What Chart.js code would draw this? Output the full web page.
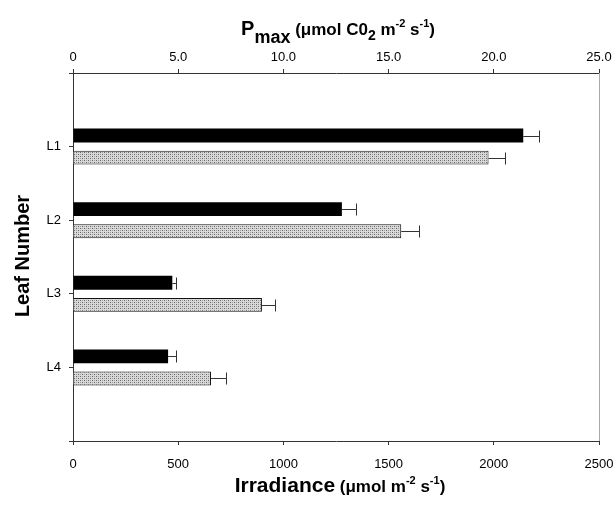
<!DOCTYPE html>
<html>
<head>
<meta charset="utf-8">
<script src="https://cdn.jsdelivr.net/npm/chart.js@4.4.1/dist/chart.umd.min.js"></script>
<style>
  html, body { margin: 0; padding: 0; background: #fff; }
</style>
</head>
<body>
<canvas id="leafChart" width="616" height="506"></canvas>
<script>
// leaf categories (blank slot at each end so L1..L4 sit on the inner ticks)
const leaves = ['', 'L1', 'L2', 'L3', 'L4', ''];
// irradiance, black bars (umol m-2 s-1) and top of the error bar
const irradiance = [null, 2140, 1278, 472, 452, null];
const irradianceErr = [null, 2216, 1345, 490, 488, null];
// Pmax, stippled bars (umol CO2 m-2 s-1) and top of the error bar
const pmax = [null, 19.75, 15.6, 8.98, 6.56, null];
const pmaxErr = [null, 20.55, 16.46, 9.6, 7.26, null];
// tick values
const irrTicks = [0, 500, 1000, 1500, 2000, 2500];
const pmaxTicks = [0, 5, 10, 15, 20, 25];

const FONT = '"Liberation Sans", Arial, sans-serif';
const bold = size => 'bold ' + size + 'px ' + FONT;

Chart.defaults.font.family = FONT;
Chart.defaults.color = '#000';

const ctx = document.getElementById('leafChart').getContext('2d');

// grey stipple like the printed fill
function stipple() {
    const c = document.createElement('canvas');
    c.width = 4; c.height = 4;
    const g = c.getContext('2d');
    g.fillStyle = '#d9d9d9';
    g.fillRect(0, 0, 4, 4);
    g.fillStyle = '#666';
    g.fillRect(0, 0, 1, 1);
    g.fillRect(2, 2, 1, 1);
    g.fillStyle = '#a0a0a0';
    g.fillRect(2, 0, 1, 1);
    g.fillRect(0, 2, 1, 1);
    return ctx.createPattern(c, 'repeat');
}

// one-sided error bars with a cap
const errorBars = {
    id: 'errorBars',
    afterDatasetsDraw(chart) {
        const c = chart.ctx;
        c.save();
        c.strokeStyle = '#333';
        c.lineWidth = 1;
        chart.data.datasets.forEach((ds, d) => {
            const meta = chart.getDatasetMeta(d);
            const scale = chart.scales[meta.xAxisID];
            meta.data.forEach((bar, i) => {
                const v = ds.errorEnds[i];
                if (v == null) return;
                const x = Math.round(scale.getPixelForValue(v)) + 0.5;
                const y = Math.round(bar.y) + 0.5;
                c.beginPath();
                c.moveTo(bar.x, y);
                c.lineTo(x, y);
                c.moveTo(x, y - 6);
                c.lineTo(x, y + 6);
                c.stroke();
            });
        });
        c.restore();
    }
};

function drawRuns(c, runs, cx, base) {
    let w = 0;
    runs.forEach(r => { c.font = r.font; w += c.measureText(r.text).width; });
    let x = cx - w / 2;
    runs.forEach(r => {
        c.font = r.font;
        c.fillText(r.text, x, base + (r.dy || 0));
        x += c.measureText(r.text).width;
    });
}

// axis titles with sub/superscripts, plus the right frame line
const titles = {
    id: 'titles',
    afterDraw(chart) {
        const c = chart.ctx;
        const a = chart.chartArea;
        c.save();
        c.strokeStyle = '#aaa';
        c.lineWidth = 1;
        c.beginPath();
        c.moveTo(Math.round(a.right) + 0.5, a.top);
        c.lineTo(Math.round(a.right) + 0.5, a.bottom);
        c.stroke();

        c.fillStyle = '#000';
        c.textBaseline = 'alphabetic';
        c.textAlign = 'left';
        drawRuns(c, [
            { text: 'P', font: bold(20) },
            { text: 'max', font: bold(18), dy: 8 },
            { text: ' (\u03bcmol C0', font: bold(17) },
            { text: '2', font: bold(14), dy: 5 },
            { text: ' m', font: bold(17) },
            { text: '-2', font: bold(11), dy: -8 },
            { text: ' s', font: bold(17) },
            { text: '-1', font: bold(11), dy: -8 },
            { text: ')', font: bold(17) }
        ], 338, 35);
        drawRuns(c, [
            { text: 'Irradiance', font: bold(21) },
            { text: ' (\u03bcmol m', font: bold(17) },
            { text: '-2', font: bold(11), dy: -8 },
            { text: ' s', font: bold(17) },
            { text: '-1', font: bold(11), dy: -8 },
            { text: ')', font: bold(17) }
        ], 340, 492);

        c.translate(29, 256);
        c.rotate(-Math.PI / 2);
        c.textAlign = 'center';
        c.font = bold(20);
        c.fillText('Leaf Number', 0, 0);
        c.restore();
    }
};

const axisGrid = { drawOnChartArea: false, color: '#333', tickLength: 4 };
const axisBorder = { color: '#333', width: 1 };

// fixed axis boxes so the plot area lands where the original has it
function fixBox(size, horizontal) {
    return s => {
        if (horizontal) s.height = size; else s.width = size;
        s.paddingLeft = 0; s.paddingRight = 0;
        s.paddingTop = 0; s.paddingBottom = 0;
    };
}

new Chart(ctx, {
    type: 'bar',
    data: {
        labels: leaves,
        datasets: [{
            label: 'Irradiance',
            data: irradiance,
            errorEnds: irradianceErr,
            xAxisID: 'x',
            backgroundColor: '#000',
            borderWidth: 0
        }, {
            label: 'Pmax',
            data: pmax,
            errorEnds: pmaxErr,
            xAxisID: 'x2',
            backgroundColor: stipple(),
            borderColor: '#111',
            borderWidth: 1
        }]
    },
    options: {
        indexAxis: 'y',
        responsive: false,
        animation: false,
        categoryPercentage: 0.6,
        barPercentage: 0.63,
        layout: { padding: { left: 0, right: 17, top: 0, bottom: 0 } },
        plugins: { legend: { display: false }, tooltip: { enabled: false } },
        scales: {
            y: {
                type: 'category',
                offset: false,
                grid: Object.assign({ offset: false }, axisGrid),
                border: axisBorder,
                ticks: { font: { size: 13 }, padding: 8, autoSkip: false },
                afterFit: fixBox(73, false)
            },
            x: {
                type: 'linear',
                position: 'bottom',
                min: 0, max: 2500,
                grid: axisGrid,
                border: axisBorder,
                afterBuildTicks: s => { s.ticks = irrTicks.map(v => ({ value: v })); },
                ticks: { font: { size: 13 }, padding: 12, maxRotation: 0, callback: v => String(v) },
                afterFit: fixBox(65, true)
            },
            x2: {
                type: 'linear',
                position: 'top',
                min: 0, max: 25,
                grid: axisGrid,
                border: axisBorder,
                afterBuildTicks: s => { s.ticks = pmaxTicks.map(v => ({ value: v })); },
                ticks: {
                    font: { size: 13 }, padding: 4, maxRotation: 0,
                    callback: v => v === 0 ? '0' : v.toFixed(1)
                },
                afterFit: fixBox(73, true)
            }
        }
    },
    plugins: [errorBars, titles]
});
</script>
</body>
</html>
